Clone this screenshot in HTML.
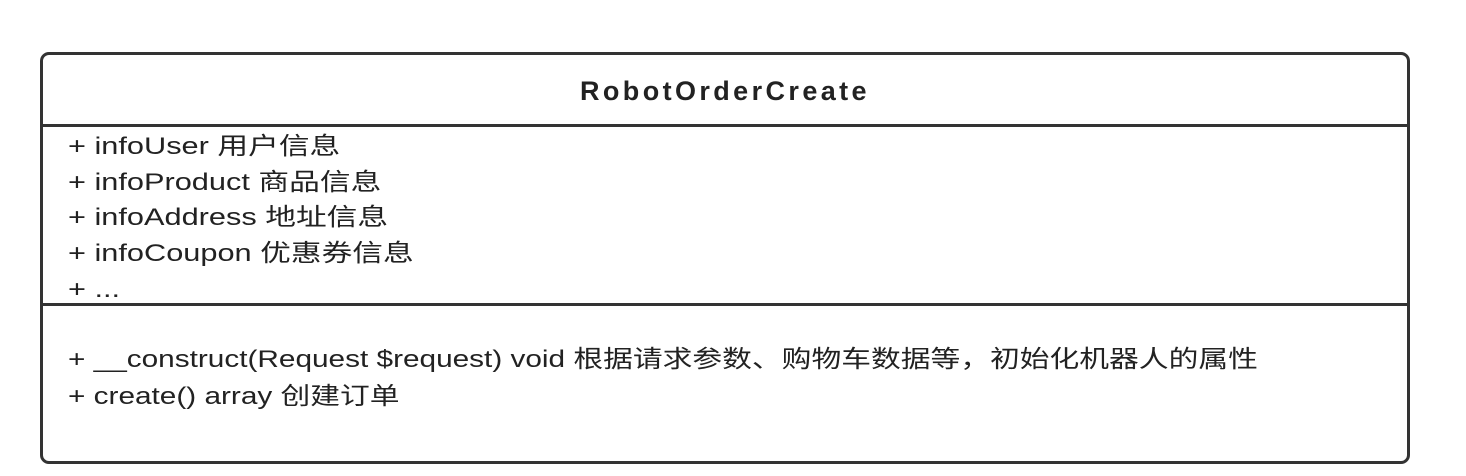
<!DOCTYPE html>
<html><head><meta charset="utf-8"><style>
body{margin:0;width:1466px;height:476px;background:#fff;position:relative;overflow:hidden;font-family:"Liberation Sans","Noto Sans CJK SC",sans-serif;color:#222}
.box{position:absolute;left:40px;top:52px;width:1364px;height:406px;border:3px solid #333;border-radius:9px}
.hl{position:absolute;left:40px;width:1370px;height:3px;background:#333}
.t{position:absolute;white-space:nowrap;font-size:24px;line-height:36px;left:68px;transform-origin:0 50%;transform:scaleX(1.28)}
.m{transform:scaleX(1.24)}
.title{position:absolute;left:40px;width:1370px;text-align:center;top:76px;font-weight:bold;font-size:27px;letter-spacing:3.4px;color:#222}
</style></head><body>
<div class="box"></div>
<div class="hl" style="top:124px"></div>
<div class="hl" style="top:303px"></div>
<div class="title">RobotOrderCreate</div>
<div class="t" style="top:129px">+ infoUser 用户信息</div>
<div class="t" style="top:165px">+ infoProduct 商品信息</div>
<div class="t" style="top:200px">+ infoAddress 地址信息</div>
<div class="t" style="top:236px">+ infoCoupon 优惠券信息</div>
<div class="t" style="top:272px">+ ...</div>
<div class="t m" style="top:342px">+ __construct(Request $request) void 根据请求参数、购物车数据等，初始化机器人的属性</div>
<div class="t m" style="top:379px">+ create() array 创建订单</div>
</body></html>
